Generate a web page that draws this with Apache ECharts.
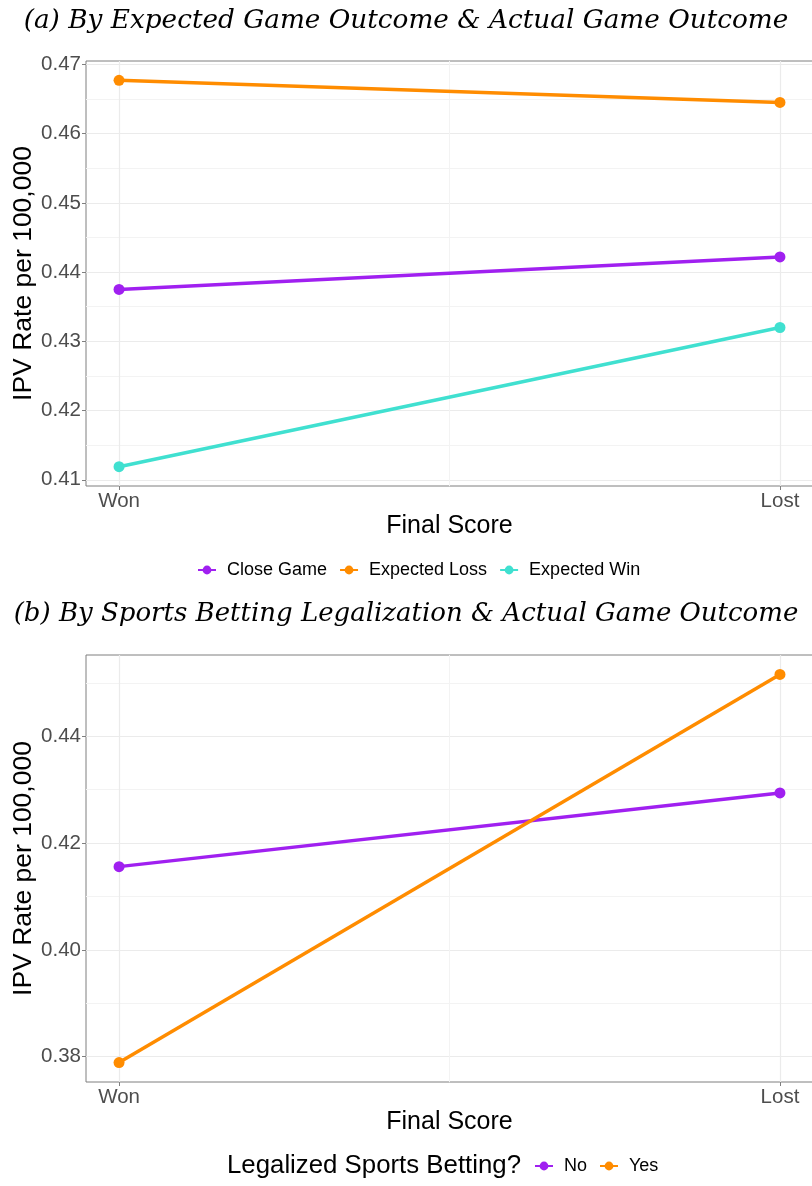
<!DOCTYPE html>
<html>
<head>
<meta charset="utf-8">
<script src="https://cdn.jsdelivr.net/npm/echarts@6/dist/echarts.min.js"></script>
<style>html,body{margin:0;padding:0;background:#fff}#c{width:812px;height:1186px}</style>
</head>
<body>
<div id="c"></div>
<script>
// ---- data ----
const categories = ['Won', 'Lost'];
const panelATitle = '(a) By Expected Game Outcome & Actual Game Outcome';
const panelBTitle = '(b) By Sports Betting Legalization & Actual Game Outcome';
const seriesANames = ['Close Game', 'Expected Loss', 'Expected Win'];
const closeGame = [0.4375, 0.4422];
const expectedLoss = [0.4677, 0.4645];
const expectedWin = [0.4119, 0.4320];
const seriesBNames = ['No', 'Yes'];
const bettingNo = [0.4156, 0.4294];
const bettingYes = [0.3789, 0.4516];
const yTicksA = [0.41, 0.42, 0.43, 0.44, 0.45, 0.46, 0.47];
const yMinorA = [0.415, 0.425, 0.435, 0.445, 0.455, 0.465];
const yTicksB = [0.38, 0.40, 0.42, 0.44];
const yMinorB = [0.39, 0.41, 0.43, 0.45];
const xMinor = [0.5];
const xTitle = 'Final Score';
const yTitle = 'IPV Rate per 100,000';
const legendBTitle = 'Legalized Sports Betting?';

// ---- styling ----
const SANS = "'Liberation Sans', Arial, sans-serif";
const SERIF = "'DejaVu Serif', 'Liberation Serif', serif";
const colors = { purple: '#A020F0', orange: '#FF8C00', teal: '#40E0D0' };
const GRID_MAJOR = '#EBEBEB';
const GRID_MINOR = '#F3F3F3';
const BORDER = '#7F7F7F';
const TICKLBL = '#4D4D4D';

function expand(vals, f) {
  const lo = Math.min(...vals), hi = Math.max(...vals);
  const d = (hi - lo) * f;
  return [lo - d, hi + d];
}
const limA = expand([...closeGame, ...expectedLoss, ...expectedWin], 0.05);
const limB = expand([...bettingNo, ...bettingYes], 0.05);
const xLim = [-0.05, 1.05];
const xIdx = categories.map((c, i) => i);

function pts(vals) { return vals.map((v, i) => [xIdx[i], v]); }

function xAxes(gridIndex) {
  return [{
    type: 'value', gridIndex, min: xLim[0], max: xLim[1],
    axisLine: { show: false, onZero: false },
    axisTick: { show: true, length: 4, customValues: xIdx, lineStyle: { color: BORDER, width: 1 } },
    axisLabel: { customValues: xIdx, formatter: v => categories[Math.round(v)], color: TICKLBL, fontSize: 20.5, fontFamily: SANS, margin: 5 },
    splitLine: { show: true, lineStyle: { color: GRID_MAJOR, width: 1.2 } },
    name: xTitle, nameLocation: 'middle', nameGap: 28,
    nameTextStyle: { color: '#000', fontSize: 25, fontFamily: SANS }
  }, {
    type: 'value', gridIndex, min: xLim[0], max: xLim[1], show: true,
    axisLine: { show: false, onZero: false }, axisLabel: { show: false },
    axisTick: { show: false, customValues: xMinor },
    splitLine: { show: true, lineStyle: { color: GRID_MINOR, width: 1 } }
  }];
}
function yAxes(gridIndex, lim, major, minor) {
  return [{
    type: 'value', gridIndex, min: lim[0], max: lim[1],
    axisLine: { show: false, onZero: false },
    axisTick: { show: true, length: 4, customValues: major, lineStyle: { color: BORDER, width: 1 } },
    axisLabel: { customValues: major, formatter: v => v.toFixed(2), color: TICKLBL, fontSize: 20.5, fontFamily: SANS, margin: 5 },
    splitLine: { show: true, lineStyle: { color: GRID_MAJOR, width: 1.2 } },
    name: yTitle, nameLocation: 'middle', nameGap: 48.5, nameRotate: 90, nameMoveOverlap: false,
    nameTextStyle: { color: '#000', fontSize: 26.5, fontFamily: SANS }
  }, {
    type: 'value', gridIndex, min: lim[0], max: lim[1], show: true,
    axisLine: { show: false, onZero: false }, axisLabel: { show: false },
    axisTick: { show: false, customValues: minor },
    splitLine: { show: true, lineStyle: { color: GRID_MINOR, width: 1 } }
  }];
}
function lineSeries(name, vals, color, xi, yi) {
  return {
    type: 'line', name, data: pts(vals), xAxisIndex: xi, yAxisIndex: yi,
    symbol: 'circle', symbolSize: 11, showSymbol: true,
    lineStyle: { color, width: 3.5 }, itemStyle: { color },
    z: 5, animation: false
  };
}

const legendText = { fontFamily: SANS, fontSize: 18, color: '#000', padding: [0, 0, 0, 6] };

const chart = echarts.init(document.getElementById('c'), null, { renderer: 'canvas' });
chart.setOption({
  animation: false,
  backgroundColor: '#fff',
  title: [
    { text: panelATitle, left: 'center', top: 8, padding: 0, textStyle: { fontFamily: SERIF, fontStyle: 'italic', fontWeight: 'normal', fontSize: 26.3, color: '#000' } },
    { text: panelBTitle, left: 'center', top: 601, padding: 0, textStyle: { fontFamily: SERIF, fontStyle: 'italic', fontWeight: 'normal', fontSize: 26, color: '#000' } },
    { text: legendBTitle, left: 227, top: 1153, padding: 0, textStyle: { fontFamily: SANS, fontWeight: 'normal', fontSize: 25.8, color: '#000' } }
  ],
  legend: [
    { data: seriesANames, left: 197, top: 561, padding: 0, itemWidth: 18, itemHeight: 11, itemGap: 12,
      textStyle: legendText },
    { data: seriesBNames, left: 534, top: 1157, padding: 0, itemWidth: 18, itemHeight: 11, itemGap: 12,
      textStyle: legendText }
  ],
  grid: [
    { left: 86, width: 727, top: 61, height: 425, outerBoundsMode: 'none', containLabel: false, show: true, borderColor: BORDER, borderWidth: 1, backgroundColor: 'transparent' },
    { left: 86, width: 727, top: 655, height: 427, outerBoundsMode: 'none', containLabel: false, show: true, borderColor: BORDER, borderWidth: 1, backgroundColor: 'transparent' }
  ],
  xAxis: [...xAxes(0), ...xAxes(1)],
  yAxis: [...yAxes(0, limA, yTicksA, yMinorA), ...yAxes(1, limB, yTicksB, yMinorB)],
  series: [
    lineSeries(seriesANames[0], closeGame, colors.purple, 0, 0),
    lineSeries(seriesANames[1], expectedLoss, colors.orange, 0, 0),
    lineSeries(seriesANames[2], expectedWin, colors.teal, 0, 0),
    lineSeries(seriesBNames[0], bettingNo, colors.purple, 2, 2),
    lineSeries(seriesBNames[1], bettingYes, colors.orange, 2, 2)
  ]
});
</script>
</body>
</html>
